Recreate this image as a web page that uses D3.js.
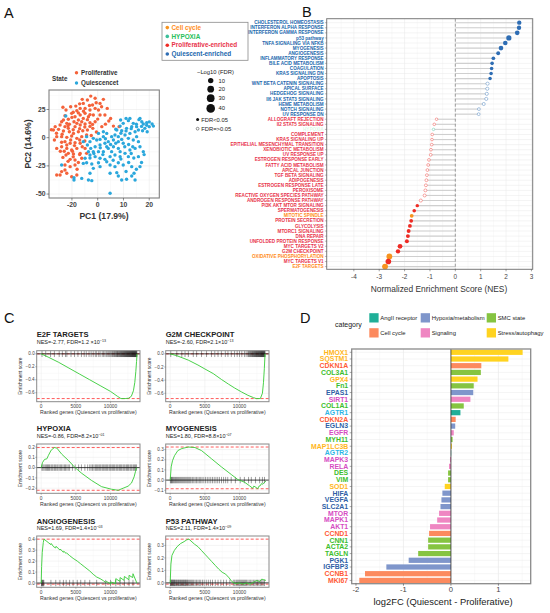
<!DOCTYPE html>
<html lang="en">
<head>
<meta charset="UTF-8">
<title>Quiescent vs proliferative SMC</title>
<script src="https://d3js.org/d3.v7.min.js"></script>
<style>
  body { margin: 0; background: #fff; }
  svg { display: block; font-family: "Liberation Sans", Arial, sans-serif; }
</style>
</head>
<body>
<svg id="fig" width="550" height="613"></svg>
<script>
// ---------------- data ----------------
// A: PCA
const prolifPts = [[-2.7,36.9],[2.2,34.0],[0.9,30.4],[-0.6,31.0],[3.7,26.0],[-4.0,33.4],[-5.6,30.4],[-4.9,26.0],[-6.8,26.0],[-8.1,23.9],
  [-10.5,27.5],[-12.7,19.5],[-12.3,24.5],[-10.1,21.6],[-8.8,18.6],[-6.8,20.1],[-4.9,21.6],[-3.0,24.5],[-1.0,26.0],[0.3,24.5],
  [-3.6,18.6],[-5.6,17.1],[-7.5,15.7],[-9.2,14.2],[-11.4,16.3],[-13.3,15.7],[-14.6,11.2],[-12.7,9.8],[-11.4,8.3],[-8.8,9.8],
  [-6.8,11.2],[-4.9,12.1],[-3.0,13.3],[-1.0,14.2],[-17.2,6.8],[-15.2,7.4],[-13.3,5.9],[-11.0,5.3],[-9.4,3.8],[-7.5,5.3],
  [-5.8,6.2],[-4.0,6.8],[-1.9,8.3],[1.6,9.8],[-15.9,0.9],[-14.0,0.9],[-12.0,0.3],[-10.1,1.5],[-8.1,-0.6],[-6.2,0.9],
  [-4.3,2.4],[-12.7,-3.5],[-10.7,-5.0],[-8.8,-4.4],[-6.8,-5.0],[-15.9,-9.5],[-14.0,-8.0],[-12.0,-9.5],[-10.1,-10.9],[-8.1,-9.5],
  [-11.4,-13.9],[-9.4,-14.5],[-6.8,-13.9],[-10.7,-19.2],[-8.8,-19.8],[-6.2,-18.3],[-12.7,-24.2],[-10.7,-25.7],[-8.8,-24.2],[-14.6,-33.1],
  [-12.7,-28.7],[-14.0,-30.1],[-10.1,-34.6],[-8.1,-33.1],[2.8,20.1],[0.9,20.1],[-1.7,20.1],[-6.2,14.2],[-12.0,12.7],[-14.0,14.2],
  [-8.1,12.7],[-16.5,9.8],[-4.9,-9.5],[-4.3,-13.9],[-12.3,-15.4],[-15.9,-33.1],[-12.0,-31.6],[-9.5,22.5],[-4.0,16.0],[-11.0,12.0],
  [-16.0,4.0],[-14.0,-4.0],[-9.0,-7.0],[-6.0,-8.0],[-13.0,-12.0],[-7.0,-15.0],[-18.0,7.0],[6.1,10.3],[8.3,9.8],[4.3,14.8],
  [-13.5,27.0],[-7.0,30.0],[-2.0,29.0],[1.5,27.5],[-10.0,18.0],[-7.5,22.0],[-5.5,23.5],[-3.0,20.5],[-11.5,10.5],[-9.5,7.0],
  [-7.0,8.0],[-5.0,9.5],[-3.0,10.0],[-13.8,3.0],[-10.5,-2.0],[-7.0,-2.0],[-5.0,-3.0],[-12.0,-6.5],[-14.5,-12.0],[-9.5,-17.0],
  [-11.5,-21.0],[-8.0,-28.0],[-16.8,-2.0],[-6.0,34.0],[-1.0,35.0],[-8.5,28.0],[-3.2,28.5],[0.0,16.5],[-2.0,11.8],[-9.8,-12.0],
  [-13.5,-17.5],[-7.5,-22.0],[-0.5,5.0],[-2.5,2.0],[3.0,12.0],[5.0,17.0]];
const quiesPts = [[11.0,17.1],[11.9,15.1],[9.9,12.7],[8.7,10.3],[13.8,12.7],[15.1,9.8],[16.4,17.1],[17.1,14.2],[17.7,12.1],[15.8,6.8],
  [14.5,5.3],[19.0,13.3],[21.1,12.1],[21.6,10.3],[20.0,9.8],[18.3,8.3],[13.2,9.8],[11.2,8.3],[9.3,6.2],[7.4,6.8],
  [6.7,2.4],[5.4,0.9],[3.5,3.8],[2.2,0.9],[0.9,-1.5],[-0.4,-2.1],[-1.7,-0.6],[-3.0,-3.5],[-4.0,-6.5],[-2.7,-9.5],
  [-1.0,-8.0],[0.9,-6.5],[2.8,-5.0],[4.1,-3.5],[6.1,-2.1],[8.0,-3.5],[9.9,-5.0],[11.9,-0.6],[13.8,-2.1],[15.8,-3.5],
  [16.4,-8.0],[14.5,-9.5],[12.5,-10.9],[10.6,-13.9],[8.7,-12.4],[6.7,-15.4],[4.8,-16.8],[2.8,-19.2],[0.9,-18.3],[-1.0,-16.8],
  [-3.0,-15.4],[-4.9,-18.3],[-5.6,-22.8],[-2.3,-23.3],[0.3,-22.2],[3.5,-21.3],[8.0,-22.2],[9.9,-24.2],[13.2,-25.7],[16.4,-25.7],
  [14.1,-31.6],[13.2,-34.0],[11.2,-36.9],[9.3,-37.5],[7.4,-31.0],[4.8,-31.6],[-3.0,-31.6],[-3.6,-37.5],[-6.2,-36.1],[-2.3,-38.1],
  [-9.2,-37.5],[-9.2,-35.5],[-14.0,-24.2],[-12.4,19.2],[4.8,-49.3],[14.5,-37.5],[-4.3,0.9],[-5.6,-3.5],[0.3,3.8],[2.2,5.3],
  [4.1,-9.5],[6.1,-8.0],[8.0,-9.5],[2.2,-12.4],[0.3,-12.4],[-1.7,-12.4],[-3.6,-12.4],[-4.3,-22.2],[-1.7,-27.2],[0.9,-25.7],
  [4.8,-24.2],[6.7,-25.7],[8.7,-16.8],[11.9,-16.8],[13.6,-8.0],[15.1,0.9],[17.4,6.2],[19.2,5.3],[10.6,2.4],[12.5,3.8],
  [8.0,0.9],[9.3,-1.5],[3.5,-8.0],[5.4,-12.4],[15.8,-16.8],[17.7,-12.4],[8.9,15.7],[12.5,17.1],[7.0,7.5],[9.0,4.0],
  [11.0,6.0],[13.0,8.0],[15.0,12.0],[17.0,10.0],[19.0,11.0],[20.0,14.0],[16.0,16.0],[10.5,-8.0],[12.0,-6.0],[7.0,-5.0],
  [5.0,-6.0],[3.0,-1.0],[1.0,-9.0],[-1.5,-14.0],[-3.0,-18.0],[2.0,-15.0],[6.0,-20.0],[9.0,-19.0],[12.0,-22.0],[14.0,-18.0],
  [15.0,-28.0],[11.0,-30.0],[8.0,-34.0],[17.0,-22.0],[18.0,-15.0],[13.0,-14.0]];
const pcXTicks = [-10, 0, 10, 20];
const pcXTickLabels = ['-20', '0', '10', '20'];
const pcYTicks = [-50, -25, 0, 25];
const stateNames = ['Proliferative', 'Quiescencet'];

// B: hallmark NES lollipop
const hmTerms = ['CHOLESTEROL HOMEOSTASIS','INTERFERON ALPHA RESPONSE','INTERFERON GAMMA RESPONSE','p53 pathway',
  'TNFA SIGNALING VIA NFKB','MYOGENESIS','ANGIOGENESIS','INFLAMMATORY RESPONSE','BILE ACID METABOLISM','COAGULATION',
  'KRAS SIGNALING DN','APOPTOSIS','WNT BETA CATENIN SIGNALING','APICAL SURFACE','HEDGEHOG SIGNALING','Il6 JAK STAT3 SIGNALING',
  'HEME METABOLISM','NOTCH SIGNALING','UV RESPONSE DN','ALLOGRAFT REJECTION','Il2 STAT5 SIGNALING','HYPOXIA','COMPLEMENT',
  'KRAS SIGNALING UP','EPITHELIAL MESENCHYMAL TRANSITION','XENOBIOTIC METABOLISM','UV RESPONSE UP','ESTROGEN RESPONSE EARLY',
  'FATTY ACID METABOLISM','APICAL JUNCTION','TGF BETA SIGNALING','ADIPOGENESIS','ESTROGEN RESPONSE LATE','PEROXISOME',
  'REACTIVE OXYGEN SPECIES PATHWAY','ANDROGEN RESPONSE PATHWAY','PI3K AKT MTOR SIGNALING','SPERMATOGENESIS','MITOTIC SPINDLE',
  'PROTEIN SECRETION','GLYCOLYSIS','MTORC1 SIGNALING','DNA REPAIR','UNFOLDED PROTEIN RESPONSE','MYC TARGETS V2',
  'G2M CHECKPOINT','OXIDATIVE PHOSPHORYLATION','MYC TARGETS V1','E2F TARGETS'];
const hmNES = [2.52,2.51,2.44,2.11,1.97,1.80,1.69,1.50,1.45,1.43,1.41,1.37,1.27,1.26,1.24,1.22,1.12,0.93,0.92,
  -0.74,-0.83,-0.86,-0.91,-0.92,-0.93,-0.96,-0.97,-1.04,-1.07,-1.10,-1.12,-1.14,-1.16,-1.18,-1.21,-1.36,
  -1.50,-1.62,-1.72,-1.74,-1.79,-1.84,-1.87,-1.91,-2.18,-2.26,-2.60,-2.64,-2.77];
const hmLogFDR = [4.5,4.5,6.0,8.85,5.5,6.06,2.85,2.2,1.9,1.8,1.7,1.6,1.0,0.95,0.9,0.85,0.7,0.4,0.4,
  0.1,0.15,0.09,0.2,0.2,0.25,0.25,0.3,0.3,0.35,0.4,0.4,0.45,0.5,0.5,0.6,0.8,
  1.6,2.0,2.4,2.4,2.6,2.8,2.9,3.0,6.5,4.5,12.7,11.5,12.9];
const hmGroup = ['Q','Q','Q','Q','Q','Q','Q','Q','Q','Q','Q','Q','Q','Q','Q','Q','Q','Q','Q',
  'P','P','H','P','P','P','P','P','P','P','P','P','P','P','P','P','P',
  'P','P','C','P','P','P','P','P','P','P','C','P','C'];
const nesTicks = [-4, -3, -2, -1, 0, 1, 2, 3];
const groupNames = ['Cell cycle', 'HYPOXIA', 'Proliferative-enriched', 'Quiescent-enriched'];
const groupKeys = ['C', 'H', 'P', 'Q'];
const sizeLegendVals = [10, 20, 30, 40];

// C: GSEA running scores
const gseaTitles = ['E2F TARGETS', 'G2M CHECKPOINT', 'HYPOXIA', 'MYOGENESIS', 'ANGIOGENESIS', 'P53 PATHWAY'];
const gseaNES = ['-2.77', '-2.60', '-0.86', '1.80', '1.69', '2.11'];
const gseaFDR = ['1.2 \u00d710', '2.1\u00d710', '8.2\u00d710', '8.8\u00d710', '1.4\u00d710', '1.4\u00d710'];
const gseaFDRExp = ['\u221213', '\u221213', '\u221201', '\u221207', '\u221203', '\u221209'];
const gseaYTicks = [[0, -0.2, -0.4, -0.6], [0, -0.2, -0.4, -0.6], [-0.2, -0.1, 0, 0.1, 0.2],
  [-0.1, 0, 0.1, 0.2, 0.3], [0, 0.1, 0.2, 0.3, 0.4], [0, 0.1, 0.2, 0.3]];
const rankTicks = [0, 5000, 10000];
const e2fCurve = [[0,0],[1000,-0.05],[2500,-0.13],[4000,-0.22],[5500,-0.31],[7000,-0.40],[8500,-0.49],[10000,-0.58],
  [11000,-0.655],[11500,-0.69],[12100,-0.69],[12600,-0.685],[13000,-0.655],[13300,-0.57],[13500,-0.44],[13650,-0.27],[13750,-0.12],[13830,0]];
const g2mCurve = [[0,0],[1000,-0.03],[2600,-0.095],[4000,-0.17],[5000,-0.23],[6200,-0.30],[7400,-0.39],[8400,-0.46],[9300,-0.52],
  [10300,-0.58],[11200,-0.63],[12000,-0.665],[12400,-0.68],[13000,-0.68],[13300,-0.60],[13450,-0.44],[13580,-0.22],[13680,0]];
const hypoxiaCurve = [[0,0],[190,0.05],[480,0.08],[810,0.085],[1050,0.12],[1440,0.17],[1910,0.195],[2250,0.19],[2970,0.13],
  [3920,0.07],[4880,0],[5840,-0.055],[7270,-0.125],[8710,-0.185],[10140,-0.21],[11100,-0.22],[11820,-0.2],[12540,-0.18],
  [13020,-0.15],[13400,-0.09],[13590,-0.04],[13730,0]];
const myoCurve = [[0,0],[140,0.13],[330,0.19],[620,0.24],[1100,0.29],[1670,0.31],[2620,0.325],[3570,0.32],[4520,0.29],
  [5950,0.21],[7380,0.13],[8810,0.055],[9760,0.005],[10710,-0.02],[11420,-0.055],[11900,-0.08],[12050,-0.06],[12230,-0.065],
  [12620,-0.085],[12800,-0.06],[13000,-0.055],[13150,-0.035],[13330,-0.04],[13570,-0.025],[13800,-0.01]];
const angioCurve = [[0,0],[60,0.15],[150,0.28],[300,0.37],[400,0.40],[700,0.385],[1000,0.37],[1400,0.35],[1450,0.36],
  [1800,0.33],[2100,0.32],[2150,0.335],[2700,0.30],[2750,0.31],[3200,0.28],[3250,0.29],[3600,0.27],[3650,0.275],[4100,0.25],
  [4600,0.225],[5200,0.20],[5700,0.175],[6300,0.145],[7000,0.11],[7500,0.08],[8000,0.055],[8500,0.04],[9000,0.02],[9300,0.005],
  [9400,0.015],[9800,0.0],[10000,-0.01],[10050,0.01],[10700,-0.005],[10760,0.04],[11350,0.015],[11380,0.05],[11950,0.025],
  [12000,0.06],[12650,0.03],[12670,0.07],[13200,0.05],[13240,0.085],[13800,0]];
const p53Curve = [[0,0],[100,0.15],[250,0.22],[600,0.26],[1000,0.29],[1500,0.315],[2000,0.33],[2400,0.345],[2700,0.35],
  [3000,0.335],[3500,0.31],[4000,0.29],[4500,0.26],[5000,0.23],[5500,0.2],[6000,0.17],[6500,0.14],[7000,0.11],[7500,0.085],
  [8000,0.07],[8500,0.04],[8900,0.01],[9200,0.0],[9500,-0.005],[10000,0.0],[10500,-0.01],[11000,0.0],[11500,-0.01],
  [12000,0.005],[12500,0.02],[12900,0.01],[13200,0.03],[13500,0.025],[13800,0.02]];
const e2fHits = [120,650,1350,1900,2600,3050,3500,3700,4300,4800,5300,5800,6200,6500,6900,7200,7500,7800,8000,8300,8500,8800,
  9000,9200,9400,9600,9750,9900,10050,10200,10300,10450,10550,10650,10750,10850,10950,11000,11100,11200,11250,11350,11420,
  11500,11580,11650,11720,11800,11860,11930,12000,12060,12120,12180,12240,12300,12360,12420,12470,12530,12580,12640,12690,
  12740,12800,12850,12900,12950,13000,13050,13100,13140,13190,13240,13280,13330,13380,13420,13470,13510,13560,13600,13650,
  13700,13750,13800];
const g2mHits = [80,950,1670,2140,2620,3330,3810,4520,5240,5950,6430,6900,7380,7950,8330,8810,9280,9660,10000,10330,10710,
  10950,11190,11300,11420,11520,11610,11700,11790,11870,11950,12030,12100,12170,12240,12310,12380,12440,12500,12560,12620,
  12680,12740,12800,12860,12910,12970,13020,13080,13130,13180,13230,13280,13330,13380,13430,13480,13530,13580,13630,13680];
const hypoxiaHits = [100,250,420,600,780,900,1050,1200,1400,1550,1700,1900,2050,2250,2400,2600,2800,2950,3150,3350,3500,
  3700,3900,4100,4500,4900,5400,5800,6300,6700,7000,7200,7400,7600,7800,7950,8100,8300,8450,8600,8800,8950,9100,9300,9450,
  9600,9800,9950,10100,10300,10450,10600,10800,10950,11100,11300,11450,11600,11800,11950,12100,12300,12450,12600,12800,
  12950,13100,13300,13450,13600,13750];
const myoHits = [30,120,200,300,400,520,650,780,900,1050,1200,1350,1500,1650,1800,1950,2100,2250,2400,2550,2700,2850,3000,
  3200,3400,3600,3800,4000,4200,4400,4600,4850,5100,5350,5600,5850,6100,6350,6600,6850,7100,7400,7700,8000,8300,8800,9400,
  10100,10700,11300,11700,12300,12900,13300,13600];
const angioHits = [40,90,150,220,300,380,1400,2100,2700,3200,3600,4100,4600,5200,5700,6300,7000,8000,9300,10000,10760,11380,
  12000,12670,13240];
const p53Hits = [20,80,150,230,300,380,460,540,620,700,800,900,1000,1100,1200,1300,1400,1500,1600,1700,1800,1900,2000,2100,
  2200,2300,2400,2500,2650,2800,2950,3100,3250,3400,3600,3800,4000,4200,4400,4650,4900,5200,5500,5800,6100,6500,6900,7300,
  7700,8100,8600,9100,9300,9500,9650,9800,9950,10100,10250,10400,10550,10700,10850,11000,11200,11400,11600,11800,12000,
  12200,12400,12600,12800,13000,13200,13400,13600];
const gseaCurves = [e2fCurve, g2mCurve, hypoxiaCurve, myoCurve, angioCurve, p53Curve];
const gseaHits = [e2fHits, g2mHits, hypoxiaHits, myoHits, angioHits, p53Hits];

// D: log2FC bars
const genes = ['HMOX1','SQSTM1','CDKN1A','COL3A1','GPX4','Fn1','EPAS1','SIRT1','COL1A1','AGTR1','CDKN2A','EGLN3','EGFR',
  'MYH11','MAP1LC3B','AGTR2','MAPK3','RELA','DES','VIM','SOD1','HIFA','VEGFA','SLC2A1','MTOR','MAPK1','AKT1','CCND1',
  'CNN1','ACTA2','TAGLN','PGK1','IGFBP3','CCNB1','MKI67'];
const log2fc = [1.51,1.21,0.64,0.63,0.56,0.48,0.47,0.41,0.27,0.20,0.10,0.09,0.06,0.035,0.02,0.005,-0.02,-0.04,-0.06,-0.06,
  -0.13,-0.18,-0.20,-0.22,-0.25,-0.29,-0.44,-0.46,-0.48,-0.48,-0.69,-0.89,-1.36,-1.81,-1.93];
const geneCat = ['Stress/autophagy','Stress/autophagy','Cell cycle','SMC state','Stress/autophagy','SMC state',
  'Hypoxia/metabolism','Signaling','SMC state','AngII receptor','Cell cycle','Hypoxia/metabolism','Signaling','SMC state',
  'Stress/autophagy','AngII receptor','Signaling','Signaling','SMC state','SMC state','Stress/autophagy','Hypoxia/metabolism',
  'Hypoxia/metabolism','Hypoxia/metabolism','Signaling','Signaling','Signaling','Cell cycle','SMC state','SMC state',
  'SMC state','Hypoxia/metabolism','Hypoxia/metabolism','Cell cycle','Cell cycle'];
const categories = ['AngII receptor','Hypoxia/metabolism','SMC state','Cell cycle','Signaling','Stress/autophagy'];
const fcTicks = [-2, -1, 0, 1];

// ---------------- drawing ----------------
const svg = d3.select('#fig');
svg.append('rect').attr('width', 550).attr('height', 613).attr('fill', '#fff');

const letters = [['A', 4, 18], ['B', 302, 17], ['C', 4, 323], ['D', 300, 323]];
svg.selectAll('text.panel').data(letters).join('text')
  .attr('x', d => d[1]).attr('y', d => d[2]).text(d => d[0])
  .attr('font-size', 14.5).attr('fill', '#111');

function grid(g, x, y, xv, yv, x0, x1, y0, y1, col) {
  g.selectAll(null).data(xv).join('line')
    .attr('x1', d => x(d)).attr('x2', d => x(d)).attr('y1', y0).attr('y2', y1)
    .attr('stroke', col).attr('stroke-width', 0.5);
  g.selectAll(null).data(yv).join('line')
    .attr('y1', d => y(d)).attr('y2', d => y(d)).attr('x1', x0).attr('x2', x1)
    .attr('stroke', col).attr('stroke-width', 0.5);
}

// ---- Panel A ----
const gA = svg.append('g');
const pcX = d3.scaleLinear().domain([-18.9, 23.9]).range([49, 159.3]);
const pcY = d3.scaleLinear().domain([-53.5, 42.3]).range([198, 90]);
grid(gA, pcX, pcY, [-15, -5, 5, 15], [-37.5, -12.5, 12.5, 37.5], 49, 159.3, 90, 198, '#f4f4f4');
grid(gA, pcX, pcY, pcXTicks, pcYTicks, 49, 159.3, 90, 198, '#e6e6e6');
const stateCol = ['#F4623A', '#2AA7DC'];
gA.selectAll('circle.p').data(prolifPts).join('circle')
  .attr('cx', d => pcX(d[0])).attr('cy', d => pcY(d[1])).attr('r', 1.7).attr('fill', stateCol[0]);
gA.selectAll('circle.q').data(quiesPts).join('circle')
  .attr('cx', d => pcX(d[0])).attr('cy', d => pcY(d[1])).attr('r', 1.7).attr('fill', stateCol[1]);
gA.append('rect').attr('x', 49).attr('y', 90).attr('width', 110.3).attr('height', 108)
  .attr('fill', 'none').attr('stroke', '#808080').attr('stroke-width', 1.1);
const axA = gA.append('g').attr('font-size', 6.8).attr('font-weight', 'bold').attr('fill', '#444');
pcXTicks.forEach((t, i) => {
  axA.append('line').attr('x1', pcX(t)).attr('x2', pcX(t)).attr('y1', 198).attr('y2', 200.5).attr('stroke', '#444').attr('stroke-width', 0.6);
  axA.append('text').attr('x', pcX(t)).attr('y', 207).attr('text-anchor', 'middle').text(pcXTickLabels[i]);
});
pcYTicks.forEach(t => {
  axA.append('line').attr('x1', 46.5).attr('x2', 49).attr('y1', pcY(t)).attr('y2', pcY(t)).attr('stroke', '#444').attr('stroke-width', 0.6);
  axA.append('text').attr('x', 45.5).attr('y', pcY(t) + 2.4).attr('text-anchor', 'end').text(t);
});
gA.append('text').attr('x', 104).attr('y', 219).attr('text-anchor', 'middle')
  .attr('font-size', 8.6).attr('font-weight', 'bold').attr('fill', '#333').text('PC1 (17.9%)');
gA.append('text').attr('transform', 'translate(31,144) rotate(-90)').attr('text-anchor', 'middle')
  .attr('font-size', 8.6).attr('font-weight', 'bold').attr('fill', '#333').text('PC2 (14.6%)');
gA.append('text').attr('x', 52).attr('y', 80.5).attr('font-size', 6.3).attr('font-weight', 'bold').attr('fill', '#333').text('State');
stateNames.forEach((s, i) => {
  gA.append('circle').attr('cx', 76.5).attr('cy', 72.8 + i * 10.2).attr('r', 1.7).attr('fill', stateCol[i]);
  gA.append('text').attr('x', 81).attr('y', 75.2 + i * 10.2).attr('font-size', 6.3).attr('font-weight', 'bold')
    .attr('fill', '#333').text(s);
});

// ---- Panel B ----
const gB = svg.append('g');
const grpPt = { Q: '#2E6DB4', P: '#EE2B24', C: '#F7931E', H: '#3BBF9A' };
const grpTxt = { Q: '#2166AC', P: '#E8334A', C: '#FF8C1A', H: '#27C05A' };
const sizeR = d3.scaleSqrt().domain([0, 40]).range([1.1, 4.3]);
const bx0 = 326.7, bx1 = 532.7, by0 = 18.7, by1 = 269.3;
const nesX = d3.scaleLinear().domain([-5.07, 3.05]).range([bx0, bx1]);
const termY = d3.scalePoint().domain(d3.range(hmTerms.length)).range([22.7, 266.6]);
grid(gB, nesX, termY, [-4.5, -3.5, -2.5, -1.5, -0.5, 0.5, 1.5, 2.5], [], bx0, bx1, by0, by1, '#f3f3f3');
grid(gB, nesX, termY, nesTicks, d3.range(hmTerms.length), bx0, bx1, by0, by1, '#e8e8e8');
gB.selectAll('line.seg').data(hmNES).join('line')
  .attr('x1', nesX(0)).attr('x2', d => nesX(d)).attr('y1', (d, i) => termY(i)).attr('y2', (d, i) => termY(i))
  .attr('stroke', '#cfcfcf').attr('stroke-width', 1.1);
gB.append('line').attr('x1', nesX(0)).attr('x2', nesX(0)).attr('y1', by0).attr('y2', by1)
  .attr('stroke', '#777').attr('stroke-width', 0.7).attr('stroke-dasharray', '3,2');
gB.selectAll('circle.pt').data(hmNES).join('circle')
  .attr('cx', d => nesX(d)).attr('cy', (d, i) => termY(i)).attr('r', (d, i) => sizeR(hmLogFDR[i]))
  .attr('fill', (d, i) => hmLogFDR[i] > 1.3 ? grpPt[hmGroup[i]] : '#fff')
  .attr('stroke', (d, i) => grpPt[hmGroup[i]])
  .attr('stroke-opacity', (d, i) => hmLogFDR[i] > 1.3 ? 1 : 0.5)
  .attr('stroke-width', (d, i) => hmLogFDR[i] > 1.3 ? 0 : 0.8);
gB.append('rect').attr('x', bx0).attr('y', by0).attr('width', bx1 - bx0).attr('height', by1 - by0)
  .attr('fill', 'none').attr('stroke', '#7a7a7a').attr('stroke-width', 1);
gB.selectAll('text.term').data(hmTerms).join('text')
  .attr('x', bx0 - 3).attr('y', (d, i) => termY(i) + 1.6).attr('text-anchor', 'end')
  .attr('font-size', 4.6).attr('font-weight', 'bold')
  .attr('fill', (d, i) => grpTxt[hmGroup[i]])
  .attr('fill-opacity', (d, i) => hmGroup[i] === 'H' ? 0.18 : 1)
  .text(d => d);
gB.selectAll('line.tk').data(hmTerms).join('line')
  .attr('x1', bx0 - 1.8).attr('x2', bx0).attr('y1', (d, i) => termY(i)).attr('y2', (d, i) => termY(i))
  .attr('stroke', '#555').attr('stroke-width', 0.4);
nesTicks.forEach(t => {
  gB.append('line').attr('x1', nesX(t)).attr('x2', nesX(t)).attr('y1', by1).attr('y2', by1 + 2).attr('stroke', '#444').attr('stroke-width', 0.5);
  gB.append('text').attr('x', nesX(t)).attr('y', 278.5).attr('text-anchor', 'middle').attr('font-size', 6.4)
    .attr('fill', '#444').text(t);
});
gB.append('text').attr('x', 439).attr('y', 291.5).attr('text-anchor', 'middle').attr('font-size', 8.4)
  .attr('fill', '#333').text('Normalized Enrichment Score (NES)');

// B legends
const gL = svg.append('g');
gL.append('rect').attr('x', 162).attr('y', 22.3).attr('width', 86).attr('height', 38)
  .attr('fill', '#fff').attr('stroke', '#8a8a8a').attr('stroke-width', 0.8);
groupNames.forEach((n, i) => {
  gL.append('circle').attr('cx', 167.3).attr('cy', 27.6 + i * 8.8).attr('r', 1.8).attr('fill', grpPt[groupKeys[i]]);
  gL.append('text').attr('x', 171.5).attr('y', 29.8 + i * 8.8).attr('font-size', 6.4).attr('font-weight', 'bold')
    .attr('fill', grpTxt[groupKeys[i]]).text(n);
});
gL.append('text').attr('x', 197).attr('y', 74).attr('font-size', 5.8).attr('fill', '#222').text('\u2212Log10 (FDR)');
const legCy = [80.6, 89.2, 98.2, 108.4];
sizeLegendVals.forEach((v, i) => {
  gL.append('circle').attr('cx', 210.7).attr('cy', legCy[i]).attr('r', sizeR(v)).attr('fill', '#111');
  gL.append('text').attr('x', 218.5).attr('y', legCy[i] + 2).attr('font-size', 5.8).attr('fill', '#222').text(v);
});
gL.append('circle').attr('cx', 197.6).attr('cy', 119.6).attr('r', 1.5).attr('fill', '#111');
gL.append('text').attr('x', 201.3).attr('y', 121.6).attr('font-size', 5.8).attr('fill', '#222').text('FDR<0.05');
gL.append('circle').attr('cx', 197.6).attr('cy', 128.7).attr('r', 1.4).attr('fill', '#fff').attr('stroke', '#444').attr('stroke-width', 0.6);
gL.append('text').attr('x', 201.3).attr('y', 130.7).attr('font-size', 5.8).attr('fill', '#222').text('FDR=>0.05');

// ---- Panel C ----
const rankDomain = [-650, 14250];
const colLeft = [36.7, 165.7], rowTop = [350.7, 444, 536], rowH = [51, 49.3, 51.3];
const titleOff = [14, 12.6, 12], subOff = [6.5, 6.1, 5.8];
function drawGsea(k) {
  const col = k % 2, row = Math.floor(k / 2);
  const left = colLeft[col], top = rowTop[row], w = 103.3, h = rowH[row];
  const curve = gseaCurves[k];
  const esMin = d3.min(curve, d => d[1]), esMax = d3.max(curve, d => d[1]);
  const yt = gseaYTicks[k];
  const step = yt[1] - yt[0];
  const lo = Math.min(esMin, d3.min(yt)), hi = Math.max(esMax, d3.max(yt));
  const pad = (hi - lo) * 0.07;
  const x = d3.scaleLinear().domain(rankDomain).range([left, left + w]);
  const y = d3.scaleLinear().domain([lo - pad, hi + pad]).range([top + h, top]);
  const g = svg.append('g');
  const minorX = [2500, 7500, 12500];
  const minorY = yt.map(t => t + Math.abs(step) / 2).filter(t => t < hi + pad && t > lo - pad);
  grid(g, x, y, minorX, minorY, left, left + w, top, top + h, '#f4f4f4');
  grid(g, x, y, rankTicks, yt, left, left + w, top, top + h, '#e8e8e8');
  [esMax, esMin].forEach(v => {
    g.append('line').attr('x1', left).attr('x2', left + w).attr('y1', y(v)).attr('y2', y(v))
      .attr('stroke', '#ff4a4a').attr('stroke-width', 0.9).attr('stroke-dasharray', '3,2');
  });
  g.selectAll('line.hit').data(gseaHits[k]).join('line')
    .attr('x1', d => x(d)).attr('x2', d => x(d)).attr('y1', y(0) - 3.2).attr('y2', y(0) + 3.2)
    .attr('stroke', '#000').attr('stroke-opacity', 0.6).attr('stroke-width', 0.65);
  g.append('line').attr('x1', left).attr('x2', left + w).attr('y1', y(0)).attr('y2', y(0))
    .attr('stroke', '#111').attr('stroke-width', 0.8);
  g.append('path').datum(curve)
    .attr('d', d3.line().x(d => x(d[0])).y(d => y(d[1])))
    .attr('fill', 'none').attr('stroke', '#36cc36').attr('stroke-width', 0.9);
  g.append('rect').attr('x', left).attr('y', top).attr('width', w).attr('height', h)
    .attr('fill', 'none').attr('stroke', '#8a8a8a').attr('stroke-width', 1);
  yt.forEach(t => {
    g.append('line').attr('x1', left - 1.5).attr('x2', left).attr('y1', y(t)).attr('y2', y(t)).attr('stroke', '#555').attr('stroke-width', 0.4);
    g.append('text').attr('x', left - 2).attr('y', y(t) + 1.6).attr('text-anchor', 'end').attr('font-size', 4.6)
      .attr('fill', '#444').text(d3.format('.1f')(t));
  });
  rankTicks.forEach(t => {
    g.append('line').attr('x1', x(t)).attr('x2', x(t)).attr('y1', top + h).attr('y2', top + h + 1.5).attr('stroke', '#555').attr('stroke-width', 0.4);
    g.append('text').attr('x', x(t)).attr('y', top + h + 6.3).attr('text-anchor', 'middle').attr('font-size', 4.8)
      .attr('fill', '#444').text(t);
  });
  g.append('text').attr('x', left + w / 2).attr('y', top + h + 12.3).attr('text-anchor', 'middle')
    .attr('font-size', 5.2).attr('fill', '#333').text('Ranked genes (Quiescent vs proliferative)');
  g.append('text').attr('transform', `translate(${left - 14.5},${top + h / 2}) rotate(-90)`).attr('text-anchor', 'middle')
    .attr('font-size', 4.8).attr('fill', '#333').text('Enrichment score');
  g.append('text').attr('x', left).attr('y', top - titleOff[row]).attr('font-size', 7.6).attr('font-weight', 'bold')
    .attr('fill', '#222').text(gseaTitles[k]);
  const sub = g.append('text').attr('x', left).attr('y', top - subOff[row]).attr('font-size', 5.5).attr('fill', '#222');
  sub.append('tspan').text(`NES=${gseaNES[k]}, FDR=${gseaFDR[k]}`);
  sub.append('tspan').attr('dy', -2).attr('font-size', 3.6).text(gseaFDRExp[k]);
}
d3.range(6).forEach(drawGsea);

// ---- Panel D ----
const gD = svg.append('g');
const catFill = { 'AngII receptor': '#1FAF98', 'Hypoxia/metabolism': '#7F96CB', 'SMC state': '#86C441',
  'Cell cycle': '#FC8A5E', 'Signaling': '#EF86C2', 'Stress/autophagy': '#FFD320' };
const catText = { 'AngII receptor': '#2DB6E6', 'Hypoxia/metabolism': '#2F5FA6', 'SMC state': '#3DBE2C',
  'Cell cycle': '#FF5A36', 'Signaling': '#D64CC2', 'Stress/autophagy': '#FFB61C' };
const dx0 = 351.7, dx1 = 530.7, dy0 = 349, dy1 = 583.7;
const fcX = d3.scaleLinear().domain([-2.09, 1.68]).range([dx0, dx1]);
const geneY = d3.scaleBand().domain(genes).range([dy0, dy1]).paddingInner(0.22).paddingOuter(0.1);
const bandMid = g => geneY(g) + geneY.bandwidth() / 2;
gD.selectAll('line.mg').data([-1.5, -0.5, 0.5, 1.5]).join('line')
  .attr('x1', d => fcX(d)).attr('x2', d => fcX(d)).attr('y1', dy0).attr('y2', dy1).attr('stroke', '#f3f3f3').attr('stroke-width', 0.5);
gD.selectAll('line.Mg').data(fcTicks).join('line')
  .attr('x1', d => fcX(d)).attr('x2', d => fcX(d)).attr('y1', dy0).attr('y2', dy1).attr('stroke', '#e6e6e6').attr('stroke-width', 0.6);
gD.selectAll('line.hg').data(genes).join('line')
  .attr('x1', dx0).attr('x2', dx1).attr('y1', d => bandMid(d)).attr('y2', d => bandMid(d)).attr('stroke', '#ebebeb').attr('stroke-width', 0.5);
gD.selectAll('rect.bar').data(genes).join('rect')
  .attr('x', (d, i) => fcX(Math.min(0, log2fc[i]))).attr('y', d => geneY(d))
  .attr('width', (d, i) => Math.abs(fcX(log2fc[i]) - fcX(0))).attr('height', geneY.bandwidth())
  .attr('fill', (d, i) => catFill[geneCat[i]]);
gD.append('line').attr('x1', fcX(0)).attr('x2', fcX(0)).attr('y1', dy0).attr('y2', dy1)
  .attr('stroke', '#333').attr('stroke-width', 0.8);
gD.append('rect').attr('x', dx0).attr('y', dy0).attr('width', dx1 - dx0).attr('height', dy1 - dy0)
  .attr('fill', 'none').attr('stroke', '#8a8a8a').attr('stroke-width', 1.3);
gD.selectAll('text.gene').data(genes).join('text')
  .attr('x', dx0 - 3.5).attr('y', d => bandMid(d) + 2.4).attr('text-anchor', 'end')
  .attr('font-size', 6.9).attr('font-weight', 'bold').attr('fill', (d, i) => catText[geneCat[i]]).text(d => d);
gD.selectAll('line.gt').data(genes).join('line')
  .attr('x1', dx0 - 2).attr('x2', dx0).attr('y1', d => bandMid(d)).attr('y2', d => bandMid(d)).attr('stroke', '#555').attr('stroke-width', 0.5);
fcTicks.forEach(t => {
  gD.append('line').attr('x1', fcX(t)).attr('x2', fcX(t)).attr('y1', dy1).attr('y2', dy1 + 2).attr('stroke', '#444').attr('stroke-width', 0.6);
  gD.append('text').attr('x', fcX(t)).attr('y', 592).attr('text-anchor', 'middle').attr('font-size', 7.6)
    .attr('fill', '#444').text(t);
});
gD.append('text').attr('x', 443).attr('y', 604.5).attr('text-anchor', 'middle').attr('font-size', 9.4)
  .attr('fill', '#222').text('log2FC (Quiescent - Proliferative)');
gD.append('text').attr('x', 335).attr('y', 326.5).attr('font-size', 7).attr('fill', '#222').text('category');
const keyX = [369.3, 420.7, 486.7], keyY = [313.2, 328.2];
categories.forEach((c, i) => {
  const kx = keyX[i % 3], ky = keyY[Math.floor(i / 3)];
  gD.append('rect').attr('x', kx).attr('y', ky).attr('width', 9.3).attr('height', 9.3).attr('fill', catFill[c]);
  gD.append('text').attr('x', kx + 11).attr('y', ky + 6.8).attr('font-size', 5.9).attr('fill', '#222').text(c);
});
</script>
</body>
</html>
